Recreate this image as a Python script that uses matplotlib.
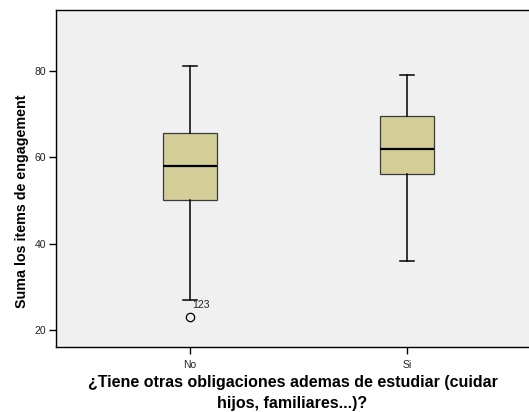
import matplotlib
matplotlib.use("Agg")
import matplotlib.pyplot as plt

plt.rcParams['font.family'] = ['Liberation Sans', 'DejaVu Sans']

# boxplot summary
groups = ['No', 'Si']
q1 = [50.0, 56.0]
med = [58.0, 62.0]
q3 = [65.5, 69.5]
whislo = [27.0, 36.0]
whishi = [81.0, 79.0]
outliers = [[23.0], []]
outlier_ids = [['123'], []]

stats = []
for i, g in enumerate(groups):
    stats.append(dict(label=g, q1=q1[i], med=med[i], q3=q3[i],
                      whislo=whislo[i], whishi=whishi[i], fliers=outliers[i]))

fig = plt.figure(figsize=(5.29, 4.12), dpi=100)
ax = fig.add_axes([56 / 529, 1 - 347.3 / 412, 1 - 56 / 529, (347.3 - 10.3) / 412])
ax.set_facecolor('#f0f0f0')

pos = list(range(len(groups)))
ax.bxp(stats, positions=pos, widths=0.25, capwidths=0.063, patch_artist=True,
       boxprops=dict(facecolor='#d3ce97', edgecolor='#3a3a3a', linewidth=0.9),
       medianprops=dict(color='black', linewidth=1.6),
       whiskerprops=dict(color='black', linewidth=1.1),
       capprops=dict(color='black', linewidth=1.1),
       flierprops=dict(marker='o', markerfacecolor='none', markeredgecolor='black',
                       markersize=6, markeredgewidth=0.9))

for i, vals in enumerate(outliers):
    for v, lab in zip(vals, outlier_ids[i]):
        ax.annotate(lab, (pos[i], v), xytext=(2, 5), textcoords='offset points',
                    fontsize=7.5, va='bottom', ha='left', color='#222222')

ax.set_xlim(-0.615, 1.56)
ax.set_ylim(16, 94)
ax.set_yticks([20, 40, 60, 80])
ax.set_xticks(pos)
ax.set_xticklabels(groups)
ax.tick_params(axis='both', direction='out', length=5, width=1, labelsize=7.5,
               colors='black', pad=2)
ax.tick_params(axis='x', pad=4)
for lab in ax.get_xticklabels() + ax.get_yticklabels():
    lab.set_color('#222222')

for s in ['left', 'bottom', 'top']:
    ax.spines[s].set_linewidth(1)
    ax.spines[s].set_color('black')
ax.spines['right'].set_visible(False)

ax.set_ylabel('Suma los items de engagement', fontsize=10.3, fontweight='bold')
ax.yaxis.set_label_coords(-0.058, 0.433)
ax.set_xlabel('¿Tiene otras obligaciones ademas de estudiar (cuidar\nhijos, familiares...)?',
              fontsize=11.5, fontweight='bold', labelpad=4, linespacing=1.45)

fig.savefig('out.png', dpi=100)
